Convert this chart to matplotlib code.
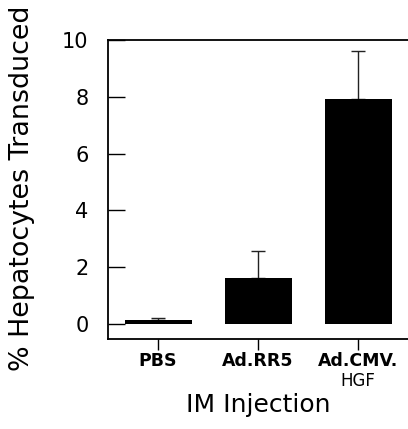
import matplotlib
matplotlib.use("Agg")
import matplotlib.pyplot as plt
import matplotlib.transforms as mtransforms

categories = ["PBS", "Ad.RR5", "Ad.CMV."]
sublabels = ["", "", "HGF"]
values = [0.13, 1.61, 7.91]
errors = [0.08, 0.96, 1.70]
yticks = [0, 2, 4, 6, 8, 10]

fig = plt.figure(figsize=(4.08, 4.29), dpi=100)
ax = fig.add_axes([108/408, 90/429, 310/408, 299/429])

x = list(range(len(categories)))
ax.bar(x, values, width=0.67, color="black", zorder=2)
ax.errorbar(x, values, yerr=[[0]*len(errors), errors], fmt="none",
            ecolor="#222222", elinewidth=1.0, capsize=5, capthick=1.0, zorder=1)

ax.set_xlim(-0.5, 2.6)
ax.set_ylim(-0.53, 10)
ax.set_yticks(yticks)
ax.set_yticklabels([str(t) for t in yticks], fontsize=15)
ax.set_xticks(x)
ax.set_xticklabels(categories, fontsize=12.5, fontweight="bold")
ax.tick_params(axis="y", direction="in", length=12, width=1, pad=14)
ax.tick_params(axis="x", direction="out", length=8, width=1, pad=1.5)
for s in ax.spines.values():
    s.set_linewidth(1.3)

trans = mtransforms.blended_transform_factory(ax.transData, fig.transFigure)
for xi, sub in zip(x, sublabels):
    if sub:
        ax.text(xi, (429-381)/429, sub, transform=trans, ha="center", va="center",
                fontsize=12, clip_on=False)

fig.text(258/408, (429-405)/429, "IM Injection", ha="center", va="center", fontsize=18)
fig.text(22/408, (429-188)/429, "% Hepatocytes Transduced", ha="center", va="center",
         rotation=90, fontsize=19.4)

fig.savefig("out.png", dpi=100)
